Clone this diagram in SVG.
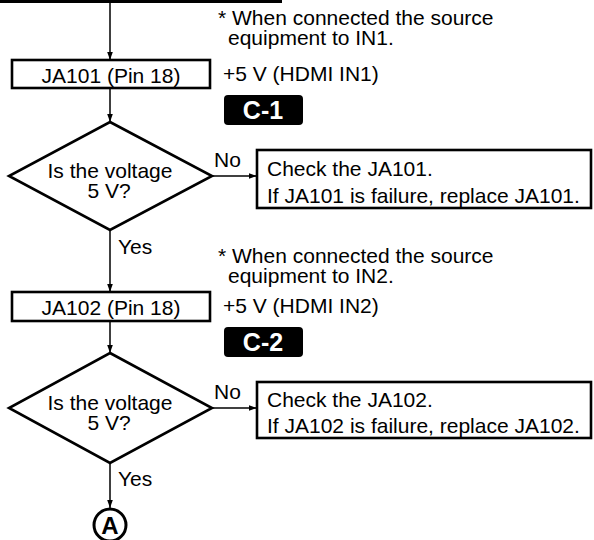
<svg xmlns="http://www.w3.org/2000/svg" width="594" height="540" viewBox="0 0 594 540">
<defs>
<marker id="arr" markerUnits="userSpaceOnUse" markerWidth="8" markerHeight="11" refX="10" refY="3.5" orient="auto" viewBox="0 0 10 7">
<path d="M0,0 L10,3.5 L0,7 Z" fill="#000"/>
</marker>
<style>
text{font-family:"Liberation Sans",Arial,Helvetica,sans-serif;font-size:21px;fill:#000}
.box{fill:#fff;stroke:#000;stroke-width:2.6}
.con{fill:none;stroke:#000;stroke-width:1.5;marker-end:url(#arr)}
.mid{text-anchor:middle}
.badge{fill:#000}
.bt{fill:#fff;font-weight:bold;font-size:25px;text-anchor:middle}
</style>
</defs>
<rect width="594" height="540" fill="#fff"/>
<g id="connectors">
<line x1="0" y1="1.5" x2="282" y2="1.5" stroke="#000" stroke-width="3"/>
<line class="con" x1="110" y1="3" x2="110" y2="60"/>
<line class="con" x1="110" y1="88" x2="110" y2="122"/>
<line class="con" x1="212" y1="176" x2="257" y2="176"/>
<line class="con" x1="110" y1="230" x2="110" y2="292"/>
<line class="con" x1="110" y1="321" x2="110" y2="353"/>
<line class="con" x1="212" y1="408" x2="257" y2="408"/>
<line class="con" x1="110" y1="463" x2="110" y2="508"/>
<text x="214" y="167">No</text>
<text x="118" y="254">Yes</text>
<text x="214" y="399">No</text>
<text x="118" y="486">Yes</text>
</g>
<g id="note1">
<text x="218" y="25">* When connected the source</text>
<text x="228" y="45">equipment to IN1.</text>
<text x="223" y="81">+5 V (HDMI IN1)</text>
</g>
<g id="ja101">
<rect class="box" x="12" y="60" width="198" height="28"/>
<text class="mid" x="111" y="83">JA101 (Pin 18)</text>
</g>
<g id="c1">
<rect class="badge" x="224" y="95" width="79" height="30" rx="4"/>
<text class="bt" x="263" y="119">C-1</text>
</g>
<g id="decision1">
<polygon class="box" points="110,122 212,176 110,230 9,176"/>
<text class="mid" x="110" y="178">Is the voltage</text>
<text class="mid" x="109" y="198">5 V?</text>
</g>
<g id="check1">
<rect class="box" x="257" y="150" width="334" height="58"/>
<text x="267" y="176">Check the JA101.</text>
<text x="267" y="203">If JA101 is failure, replace JA101.</text>
</g>
<g id="note2">
<text x="218" y="263">* When connected the source</text>
<text x="228" y="283">equipment to IN2.</text>
<text x="223" y="313">+5 V (HDMI IN2)</text>
</g>
<g id="ja102">
<rect class="box" x="12" y="292" width="198" height="29"/>
<text class="mid" x="111" y="315">JA102 (Pin 18)</text>
</g>
<g id="c2">
<rect class="badge" x="224" y="327" width="79" height="30" rx="4"/>
<text class="bt" x="263" y="351">C-2</text>
</g>
<g id="decision2">
<polygon class="box" points="110,353 212,408 110,463 9,408"/>
<text class="mid" x="110" y="410">Is the voltage</text>
<text class="mid" x="109" y="430">5 V?</text>
</g>
<g id="check2">
<rect class="box" x="257" y="382" width="334" height="56"/>
<text x="267" y="407">Check the JA102.</text>
<text x="267" y="433">If JA102 is failure, replace JA102.</text>
</g>
<g id="connectorA">
<circle cx="110" cy="525" r="16" fill="#fff" stroke="#000" stroke-width="3"/>
<text class="mid" x="110" y="534" style="font-weight:bold;font-size:24px">A</text>
</g>
</svg>
